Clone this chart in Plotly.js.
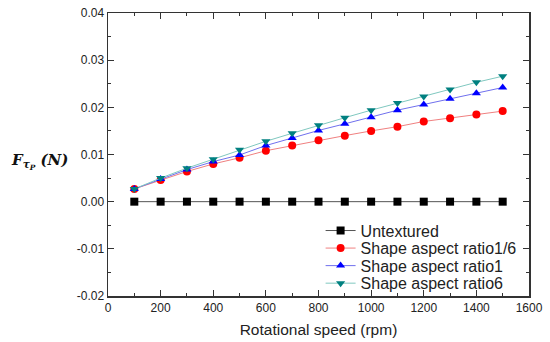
<!DOCTYPE html>
<html><head><meta charset="utf-8">
<script src="https://cdn.plot.ly/plotly-3.0.1.min.js"></script>
<style>html,body{margin:0;padding:0;background:#fff}#chart{width:550px;height:342px}</style>
</head><body><div id="chart"></div>
<script>
const speed = [100,200,300,400,500,600,700,800,900,1000,1100,1200,1300,1400,1500];
const untextured = [0,0,0,0,0,0,0,0,0,0,0,0,0,0,0];
const ratio1_6 = [0.0027,0.0046,0.0064,0.0080,0.0093,0.0108,0.0119,0.0130,0.0140,0.0150,0.0159,0.0170,0.0177,0.0185,0.0192];
const ratio1 = [0.0027,0.0048,0.0068,0.0085,0.0099,0.0119,0.0135,0.0151,0.0165,0.0179,0.0194,0.0206,0.0218,0.0230,0.0242];
const ratio6 = [0.0027,0.0050,0.0071,0.0090,0.0110,0.0128,0.0145,0.0162,0.0178,0.0194,0.0209,0.0223,0.0238,0.0253,0.0266];
const names = ['Untextured','Shape aspect ratio1/6','Shape aspect ratio1','Shape aspect ratio6'];
const xTicks = [0,200,400,600,800,1000,1200,1400,1600];
const yTicks = [-0.02,-0.01,0,0.01,0.02,0.03,0.04];

const mk = (y, name, lc, mc, sym, lg) => ({
  x: speed, y: y, name: name, type: 'scatter', mode: 'lines+markers', legend: lg,
  line: {color: lc, width: 1},
  marker: {color: mc, symbol: sym, size: 8}
});
const data = [
  mk(untextured, names[0], '#555555', '#000000', 'square', 'legend'),
  mk(ratio1_6, names[1], '#f08080', '#ff0000', 'circle', 'legend2'),
  mk(ratio1, names[2], '#7070ee', '#0000ff', 'triangle-up', 'legend3'),
  mk(ratio6, names[3], '#80c8c0', '#008080', 'triangle-down', 'legend4')
];
const font = 'Arial, Liberation Sans, sans-serif';
const lgd = (y) => ({x: 0.505, y: y, xanchor: 'left', yanchor: 'middle',
  bgcolor: 'rgba(0,0,0,0)', borderwidth: 0,
  font: {family: font, size: 16, color: '#222'}});
const axisCommon = {
  showline: true, linecolor: '#333', linewidth: 1.5, mirror: 'ticks',
  ticks: 'inside', ticklen: 6, tickcolor: '#333', tickwidth: 1,
  showgrid: false, zeroline: false,
  tickfont: {family: font, size: 12, color: '#222'}
};
const layout = {
  width: 550, height: 342,
  margin: {l: 108, r: 21, t: 13, b: 46},
  paper_bgcolor: '#fff', plot_bgcolor: '#fff',
  showlegend: true,
  legend: lgd(0.231), legend2: lgd(0.169), legend3: lgd(0.107), legend4: lgd(0.045),
  xaxis: Object.assign({}, axisCommon, {
    range: [0, 1600], tickvals: xTicks, ticktext: xTicks.map(String),
    minor: {dtick: 100, tick0: 0, ticks: 'inside', ticklen: 3, tickcolor: '#333'},
    title: {text: 'Rotational speed (rpm)', standoff: 10,
      font: {family: font, size: 15.5, color: '#222'}}
  }),
  yaxis: Object.assign({}, axisCommon, {
    range: [-0.02, 0.04], tickvals: yTicks, ticktext: yTicks.map(v => v.toFixed(2)),
    minor: {dtick: 0.005, tick0: 0, ticks: 'inside', ticklen: 3, tickcolor: '#333'}
  }),
  annotations: [{
    xref: 'paper', yref: 'paper', x: -0.163, y: 0.477, xanchor: 'center', yanchor: 'middle',
    showarrow: false,
    text: '<b><i>F</i></b><sub><b><i>τ<sub>P</sub></i></b></sub><b><i> (N)</i></b>',
    font: {family: 'DejaVu Serif, Liberation Serif, serif', size: 15, color: '#111'}
  }]
};
Plotly.newPlot('chart', data, layout, {displayModeBar: false, staticPlot: true});
</script></body></html>
